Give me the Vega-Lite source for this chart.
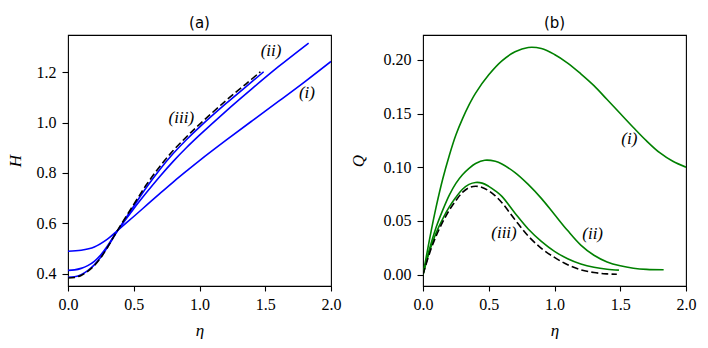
{
  "$schema": "https://vega.github.io/schema/vega-lite/v6.json",
  "background": "white",
  "padding": {"left": 5, "top": 15, "right": 0, "bottom": 0},
  "bounds": "flush",
  "spacing": 92,
  "datasets": {
    "aSolid": [
      {"curve": "i", "eta": 0, "H": 0.489}, {"curve": "i", "eta": 0.1, "H": 0.493}, {"curve": "i", "eta": 0.2, "H": 0.506}, {"curve": "i", "eta": 0.3, "H": 0.537}, {"curve": "i", "eta": 0.38, "H": 0.573}, {"curve": "i", "eta": 0.5, "H": 0.627}, {"curve": "i", "eta": 0.6, "H": 0.673}, {"curve": "i", "eta": 0.7, "H": 0.719}, {"curve": "i", "eta": 0.8, "H": 0.764}, {"curve": "i", "eta": 0.9, "H": 0.807}, {"curve": "i", "eta": 1.0, "H": 0.849}, {"curve": "i", "eta": 1.2, "H": 0.929}, {"curve": "i", "eta": 1.4, "H": 1.007}, {"curve": "i", "eta": 1.6, "H": 1.084}, {"curve": "i", "eta": 1.8, "H": 1.162}, {"curve": "i", "eta": 2.0, "H": 1.243},
      {"curve": "ii", "eta": 0, "H": 0.413}, {"curve": "ii", "eta": 0.05, "H": 0.415}, {"curve": "ii", "eta": 0.1, "H": 0.421}, {"curve": "ii", "eta": 0.15, "H": 0.432}, {"curve": "ii", "eta": 0.2, "H": 0.449}, {"curve": "ii", "eta": 0.25, "H": 0.475}, {"curve": "ii", "eta": 0.3, "H": 0.51}, {"curve": "ii", "eta": 0.35, "H": 0.55}, {"curve": "ii", "eta": 0.38, "H": 0.573}, {"curve": "ii", "eta": 0.5, "H": 0.658}, {"curve": "ii", "eta": 0.6, "H": 0.724}, {"curve": "ii", "eta": 0.7, "H": 0.787}, {"curve": "ii", "eta": 0.8, "H": 0.846}, {"curve": "ii", "eta": 0.9, "H": 0.9}, {"curve": "ii", "eta": 1.0, "H": 0.95}, {"curve": "ii", "eta": 1.2, "H": 1.045}, {"curve": "ii", "eta": 1.4, "H": 1.135}, {"curve": "ii", "eta": 1.6, "H": 1.222}, {"curve": "ii", "eta": 1.83, "H": 1.316},
      {"curve": "iii", "eta": 0, "H": 0.386}, {"curve": "iii", "eta": 0.05, "H": 0.388}, {"curve": "iii", "eta": 0.1, "H": 0.396}, {"curve": "iii", "eta": 0.15, "H": 0.412}, {"curve": "iii", "eta": 0.2, "H": 0.435}, {"curve": "iii", "eta": 0.25, "H": 0.466}, {"curve": "iii", "eta": 0.3, "H": 0.505}, {"curve": "iii", "eta": 0.35, "H": 0.548}, {"curve": "iii", "eta": 0.38, "H": 0.573}, {"curve": "iii", "eta": 0.5, "H": 0.668}, {"curve": "iii", "eta": 0.6, "H": 0.745}, {"curve": "iii", "eta": 0.7, "H": 0.815}, {"curve": "iii", "eta": 0.8, "H": 0.877}, {"curve": "iii", "eta": 0.9, "H": 0.932}, {"curve": "iii", "eta": 1.0, "H": 0.982}, {"curve": "iii", "eta": 1.2, "H": 1.075}, {"curve": "iii", "eta": 1.35, "H": 1.141}, {"curve": "iii", "eta": 1.488, "H": 1.202}
    ],
    "aDash": [
      {"eta": 0, "H": 0.383}, {"eta": 0.05, "H": 0.385}, {"eta": 0.1, "H": 0.393}, {"eta": 0.15, "H": 0.409}, {"eta": 0.2, "H": 0.432}, {"eta": 0.25, "H": 0.464}, {"eta": 0.3, "H": 0.504}, {"eta": 0.35, "H": 0.549}, {"eta": 0.38, "H": 0.575}, {"eta": 0.5, "H": 0.675}, {"eta": 0.6, "H": 0.756}, {"eta": 0.7, "H": 0.827}, {"eta": 0.8, "H": 0.889}, {"eta": 0.9, "H": 0.943}, {"eta": 1.0, "H": 0.993}, {"eta": 1.2, "H": 1.087}, {"eta": 1.35, "H": 1.152}, {"eta": 1.463, "H": 1.202}
    ],
    "aLabels": [
      {"eta": 0.862, "H": 1.02, "label": "(iii)"}, {"eta": 1.544, "H": 1.283, "label": "(ii)"}, {"eta": 1.817, "H": 1.117, "label": "(i)"}
    ],
    "bSolid": [
      {"curve": "i", "eta": 0, "Q": 0}, {"curve": "i", "eta": 0.05, "Q": 0.033}, {"curve": "i", "eta": 0.1, "Q": 0.063}, {"curve": "i", "eta": 0.15, "Q": 0.089}, {"curve": "i", "eta": 0.2, "Q": 0.111}, {"curve": "i", "eta": 0.25, "Q": 0.13}, {"curve": "i", "eta": 0.3, "Q": 0.145}, {"curve": "i", "eta": 0.35, "Q": 0.158}, {"curve": "i", "eta": 0.4, "Q": 0.169}, {"curve": "i", "eta": 0.5, "Q": 0.186}, {"curve": "i", "eta": 0.6, "Q": 0.199}, {"curve": "i", "eta": 0.7, "Q": 0.2075}, {"curve": "i", "eta": 0.8, "Q": 0.2115}, {"curve": "i", "eta": 0.9, "Q": 0.2105}, {"curve": "i", "eta": 1.0, "Q": 0.205}, {"curve": "i", "eta": 1.1, "Q": 0.197}, {"curve": "i", "eta": 1.2, "Q": 0.187}, {"curve": "i", "eta": 1.3, "Q": 0.176}, {"curve": "i", "eta": 1.4, "Q": 0.163}, {"curve": "i", "eta": 1.5, "Q": 0.15}, {"curve": "i", "eta": 1.6, "Q": 0.137}, {"curve": "i", "eta": 1.7, "Q": 0.1245}, {"curve": "i", "eta": 1.8, "Q": 0.1135}, {"curve": "i", "eta": 1.9, "Q": 0.1055}, {"curve": "i", "eta": 2.0, "Q": 0.1}, 
      {"curve": "ii", "eta": 0, "Q": 0}, {"curve": "ii", "eta": 0.05, "Q": 0.024}, {"curve": "ii", "eta": 0.1, "Q": 0.044}, {"curve": "ii", "eta": 0.15, "Q": 0.06}, {"curve": "ii", "eta": 0.2, "Q": 0.074}, {"curve": "ii", "eta": 0.25, "Q": 0.085}, {"curve": "ii", "eta": 0.3, "Q": 0.093}, {"curve": "ii", "eta": 0.35, "Q": 0.099}, {"curve": "ii", "eta": 0.4, "Q": 0.1035}, {"curve": "ii", "eta": 0.47, "Q": 0.1065}, {"curve": "ii", "eta": 0.55, "Q": 0.1055}, {"curve": "ii", "eta": 0.6, "Q": 0.103}, {"curve": "ii", "eta": 0.7, "Q": 0.095}, {"curve": "ii", "eta": 0.8, "Q": 0.084}, {"curve": "ii", "eta": 0.9, "Q": 0.071}, {"curve": "ii", "eta": 1.0, "Q": 0.056}, {"curve": "ii", "eta": 1.1, "Q": 0.041}, {"curve": "ii", "eta": 1.2, "Q": 0.0275}, {"curve": "ii", "eta": 1.3, "Q": 0.018}, {"curve": "ii", "eta": 1.4, "Q": 0.0118}, {"curve": "ii", "eta": 1.5, "Q": 0.0082}, {"curve": "ii", "eta": 1.6, "Q": 0.006}, {"curve": "ii", "eta": 1.7, "Q": 0.0049}, {"curve": "ii", "eta": 1.83, "Q": 0.0046},
      {"curve": "iii", "eta": 0, "Q": 0}, {"curve": "iii", "eta": 0.05, "Q": 0.022}, {"curve": "iii", "eta": 0.1, "Q": 0.039}, {"curve": "iii", "eta": 0.15, "Q": 0.052}, {"curve": "iii", "eta": 0.2, "Q": 0.063}, {"curve": "iii", "eta": 0.25, "Q": 0.072}, {"curve": "iii", "eta": 0.3, "Q": 0.0795}, {"curve": "iii", "eta": 0.35, "Q": 0.084}, {"curve": "iii", "eta": 0.4, "Q": 0.0858}, {"curve": "iii", "eta": 0.45, "Q": 0.0852}, {"curve": "iii", "eta": 0.5, "Q": 0.0822}, {"curve": "iii", "eta": 0.55, "Q": 0.078}, {"curve": "iii", "eta": 0.6, "Q": 0.0728}, {"curve": "iii", "eta": 0.7, "Q": 0.0572}, {"curve": "iii", "eta": 0.8, "Q": 0.0425}, {"curve": "iii", "eta": 0.9, "Q": 0.031}, {"curve": "iii", "eta": 1.0, "Q": 0.0217}, {"curve": "iii", "eta": 1.1, "Q": 0.0148}, {"curve": "iii", "eta": 1.2, "Q": 0.0099}, {"curve": "iii", "eta": 1.3, "Q": 0.0068}, {"curve": "iii", "eta": 1.4, "Q": 0.005}, {"curve": "iii", "eta": 1.49, "Q": 0.0042}
    ],
    "bDash": [
      {"eta": 0, "Q": 0}, {"eta": 0.05, "Q": 0.02}, {"eta": 0.1, "Q": 0.036}, {"eta": 0.15, "Q": 0.049}, {"eta": 0.2, "Q": 0.06}, {"eta": 0.25, "Q": 0.069}, {"eta": 0.3, "Q": 0.0765}, {"eta": 0.35, "Q": 0.081}, {"eta": 0.4, "Q": 0.0823}, {"eta": 0.45, "Q": 0.0812}, {"eta": 0.5, "Q": 0.078}, {"eta": 0.55, "Q": 0.0733}, {"eta": 0.6, "Q": 0.067}, {"eta": 0.7, "Q": 0.051}, {"eta": 0.8, "Q": 0.036}, {"eta": 0.9, "Q": 0.0245}, {"eta": 1.0, "Q": 0.016}, {"eta": 1.1, "Q": 0.0092}, {"eta": 1.2, "Q": 0.0045}, {"eta": 1.3, "Q": 0.0019}, {"eta": 1.4, "Q": 0.0007}, {"eta": 1.474, "Q": 0.0003}
    ],
    "bLabels": [
      {"eta": 1.569, "Q": 0.126, "label": "(i)"}, {"eta": 1.29, "Q": 0.038, "label": "(ii)"}, {"eta": 0.616, "Q": 0.039, "label": "(iii)"}
    ]
  },
  "hconcat": [
    {
      "width": 263,
      "height": 251,
      "title": {"text": "(a)"},
      "encoding": {
        "x": {"field": "eta", "type": "quantitative", "scale": {"domain": [0, 2], "nice": false, "zero": false},
              "axis": {"values": [0, 0.5, 1, 1.5, 2], "format": ".1f", "title": "η", "labelFont": "Liberation Serif", "titleFont": "Liberation Serif", "tickSize": 5, "labelPadding": 5, "titlePadding": 10}},
        "y": {"field": "H", "type": "quantitative", "scale": {"domain": [0.351, 1.348], "nice": false, "zero": false},
              "axis": {"values": [0.4, 0.6, 0.8, 1.0, 1.2], "format": ".1f", "title": "H", "labelFont": "Liberation Serif", "titleFont": "Liberation Serif", "tickSize": 6, "labelPadding": 6, "minExtent": 33, "maxExtent": 33, "titlePadding": 11}}
      },
      "layer": [
        {"data": {"name": "aSolid"}, "mark": {"type": "line", "interpolate": "catmull-rom", "color": "#0000ff", "strokeWidth": 1.6, "clip": true}, "encoding": {"detail": {"field": "curve", "type": "nominal"}}},
        {"data": {"name": "aDash"}, "mark": {"type": "line", "interpolate": "catmull-rom", "color": "black", "strokeWidth": 1.6, "strokeDash": [7, 3.2], "clip": true}, "encoding": {}},
        {"data": {"name": "aLabels"}, "mark": {"type": "text", "font": "Liberation Serif", "fontStyle": "italic", "fontSize": 17, "color": "black", "align": "center", "baseline": "middle"}, "encoding": {"text": {"field": "label", "type": "nominal"}}}
      ]
    },
    {
      "width": 263,
      "height": 251,
      "title": {"text": "(b)"},
      "encoding": {
        "x": {"field": "eta", "type": "quantitative", "scale": {"domain": [0, 2], "nice": false, "zero": false},
              "axis": {"values": [0, 0.5, 1, 1.5, 2], "format": ".1f", "title": "η", "labelFont": "Liberation Serif", "titleFont": "Liberation Serif", "tickSize": 5, "labelPadding": 5, "titlePadding": 10}},
        "y": {"field": "Q", "type": "quantitative", "scale": {"domain": [-0.0106, 0.2231], "nice": false, "zero": false},
              "axis": {"values": [0, 0.05, 0.1, 0.15, 0.2], "format": ".2f", "title": "Q", "labelFont": "Liberation Serif", "titleFont": "Liberation Serif", "tickSize": 6, "labelPadding": 6, "minExtent": 40, "maxExtent": 40, "titlePadding": 16}}
      },
      "layer": [
        {"data": {"name": "bSolid"}, "mark": {"type": "line", "interpolate": "catmull-rom", "color": "#008000", "strokeWidth": 1.6, "clip": true}, "encoding": {"detail": {"field": "curve", "type": "nominal"}}},
        {"data": {"name": "bDash"}, "mark": {"type": "line", "interpolate": "catmull-rom", "color": "black", "strokeWidth": 1.6, "strokeDash": [7, 3.2], "clip": true}, "encoding": {}},
        {"data": {"name": "bLabels"}, "mark": {"type": "text", "font": "Liberation Serif", "fontStyle": "italic", "fontSize": 17, "color": "black", "align": "center", "baseline": "middle"}, "encoding": {"text": {"field": "label", "type": "nominal"}}}
      ]
    }
  ],
  "config": {
    "view": {"stroke": "black", "strokeWidth": 1.1},
    "style": {"guide-label": {"font": "Liberation Serif"}, "guide-title": {"font": "Liberation Serif"}},
    "axis": {
      "grid": false, "domain": false,
      "tickColor": "black", "tickWidth": 1.1,
      "labelFont": "Liberation Serif", "labelFontSize": 16, "labelColor": "black",
      "labelFlush": false, "labelOverlap": false,
      "titleFont": "Liberation Serif", "titleFontStyle": "italic", "titleFontWeight": "normal", "titleFontSize": 17, "titleColor": "black"
    },
    "title": {"font": "DejaVu Sans", "fontSize": 15, "fontWeight": "normal", "color": "black", "offset": 0}
  }
}
